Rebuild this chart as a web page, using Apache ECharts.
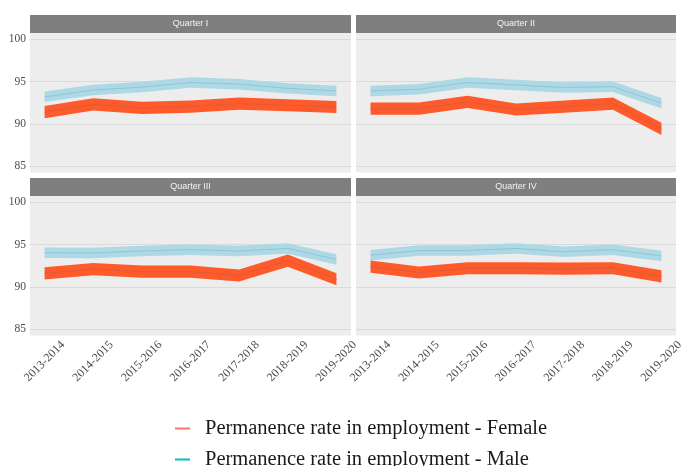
<!DOCTYPE html>
<html>
<head>
<meta charset="utf-8">
<script src="https://cdn.jsdelivr.net/npm/echarts@6/dist/echarts.min.js"></script>
<style>
  html, body { margin: 0; padding: 0; background: #ffffff; }
  #chart { width: 686px; height: 466px; }
</style>
</head>
<body>
<div id="chart"></div>
<script>
// Academic years on the horizontal axis
const periods = ['2013-2014', '2014-2015', '2015-2016', '2016-2017', '2017-2018', '2018-2019', '2019-2020'];
const quarters = ['Quarter I', 'Quarter II', 'Quarter III', 'Quarter IV'];
const yTicks = [85, 90, 95, 100];

// Permanence rate in employment (%) by quarter
const femaleQ1 = [91.4, 92.3, 91.9, 92.05, 92.4, 92.2, 92.0];
const maleQ1   = [93.2, 94.0, 94.35, 94.9, 94.7, 94.2, 93.9];
const femaleQ2 = [91.8, 91.8, 92.6, 91.7, 92.05, 92.4, 89.4];
const maleQ2   = [93.9, 94.1, 94.9, 94.6, 94.3, 94.4, 92.45];
const femaleQ3 = [91.6, 92.1, 91.8, 91.8, 91.35, 93.1, 90.9];
const maleQ3   = [94.05, 94.0, 94.25, 94.4, 94.25, 94.55, 93.25];
const femaleQ4 = [92.4, 91.7, 92.2, 92.2, 92.15, 92.2, 91.25];
const maleQ4   = [93.75, 94.3, 94.3, 94.55, 94.15, 94.4, 93.65];

// Half-width of the confidence ribbon drawn around each line
const femaleBand = 0.72;
const maleBand = 0.62;

const femaleName = 'Permanence rate in employment - Female';
const maleName = 'Permanence rate in employment - Male';

const serif = '"Liberation Serif", "Times New Roman", serif';
const panels = [
  { female: femaleQ1, male: maleQ1, left: 30,  top: 33,  width: 321, bottomRow: false, firstCol: true },
  { female: femaleQ2, male: maleQ2, left: 356, top: 33,  width: 320, bottomRow: false, firstCol: false },
  { female: femaleQ3, male: maleQ3, left: 30,  top: 196, width: 321, bottomRow: true,  firstCol: true },
  { female: femaleQ4, male: maleQ4, left: 356, top: 196, width: 320, bottomRow: true,  firstCol: false }
];
const panelHeight = 139.5;
const stripHeight = 18;

const grid = [], xAxis = [], yAxis = [], series = [], graphic = [];

const pairs = vals => vals.map((v, i) => [i, v]);

// Shaded band (mid ± half) drawn as one polygon through the axis scales
function ribbon(vals, half, idx, color) {
  series.push({
    type: 'custom', xAxisIndex: idx, yAxisIndex: idx, silent: true,
    encode: { x: 0, y: 1 },
    data: pairs(vals),
    renderItem: (params, api) => {
      if (params.dataIndex !== 0) return null;
      const upper = vals.map((v, i) => api.coord([i, v + half]));
      const lower = vals.map((v, i) => api.coord([i, v - half])).reverse();
      return {
        type: 'polygon',
        shape: { points: upper.concat(lower) },
        style: { fill: color }
      };
    }
  });
}

panels.forEach((p, idx) => {
  grid.push({
    left: p.left, top: p.top, width: p.width, height: panelHeight,
    show: true, backgroundColor: '#ededed', borderWidth: 0,
    outerBoundsMode: 'none'
  });
  xAxis.push({
    type: 'value', gridIndex: idx, min: -0.3, max: 6.3,
    axisLine: { show: false }, axisTick: { show: false }, splitLine: { show: false },
    axisLabel: {
      show: p.bottomRow,
      customValues: periods.map((_, i) => i),
      formatter: v => periods[Math.round(v)],
      rotate: 45, align: 'center', verticalAlign: 'middle', margin: 26,
      fontFamily: serif, fontSize: 12, color: '#4d4d4d'
    }
  });
  yAxis.push({
    type: 'value', gridIndex: idx, min: 84.25, max: 100.75,
    axisLine: { show: false },
    axisTick: { show: false, customValues: yTicks },
    splitLine: { show: true, lineStyle: { color: '#dadada', width: 1 } },
    axisLabel: {
      show: p.firstCol, customValues: yTicks, margin: 4,
      fontFamily: serif, fontSize: 11.5, color: '#4d4d4d'
    }
  });

  ribbon(p.male, maleBand, idx, '#add8e6');
  series.push({
    name: maleName, type: 'line', xAxisIndex: idx, yAxisIndex: idx,
    symbol: 'none', silent: true, color: '#00BFC4',
    lineStyle: { color: '#93c4d5', width: 1 }, data: pairs(p.male)
  });
  ribbon(p.female, femaleBand, idx, '#ff5a2a');
  series.push({
    name: femaleName, type: 'line', xAxisIndex: idx, yAxisIndex: idx,
    symbol: 'none', silent: true, color: '#F8766D',
    lineStyle: { color: '#dd5b3c', width: 1 }, data: pairs(p.female)
  });

  // facet strip with the quarter title
  graphic.push({
    type: 'rect', left: p.left, top: p.top - stripHeight,
    shape: { width: p.width, height: stripHeight },
    style: { fill: '#7f7f7f' }
  });
  graphic.push({
    type: 'text', x: p.left + p.width / 2, y: p.top - stripHeight / 2,
    style: {
      text: quarters[idx], fill: '#f4f4f4', align: 'center', verticalAlign: 'middle',
      font: '9px "Liberation Sans", Arial, sans-serif'
    }
  });
});

const chart = echarts.init(document.getElementById('chart'), null, { renderer: 'canvas' });
chart.setOption({
  animation: false,
  backgroundColor: '#ffffff',
  grid, xAxis, yAxis, series, graphic,
  legend: {
    orient: 'vertical', left: 170, top: 413, height: 60,
    itemWidth: 15, itemHeight: 2, itemGap: 10, icon: 'rect', selectedMode: false,
    textStyle: { fontFamily: serif, fontSize: 20.5, lineHeight: 20, color: '#1a1a1a', padding: [0, 0, 0, 10] },
    data: [
      { name: femaleName, itemStyle: { color: '#F8766D' } },
      { name: maleName, itemStyle: { color: '#00BFC4' } }
    ]
  }
});
</script>
</body>
</html>
